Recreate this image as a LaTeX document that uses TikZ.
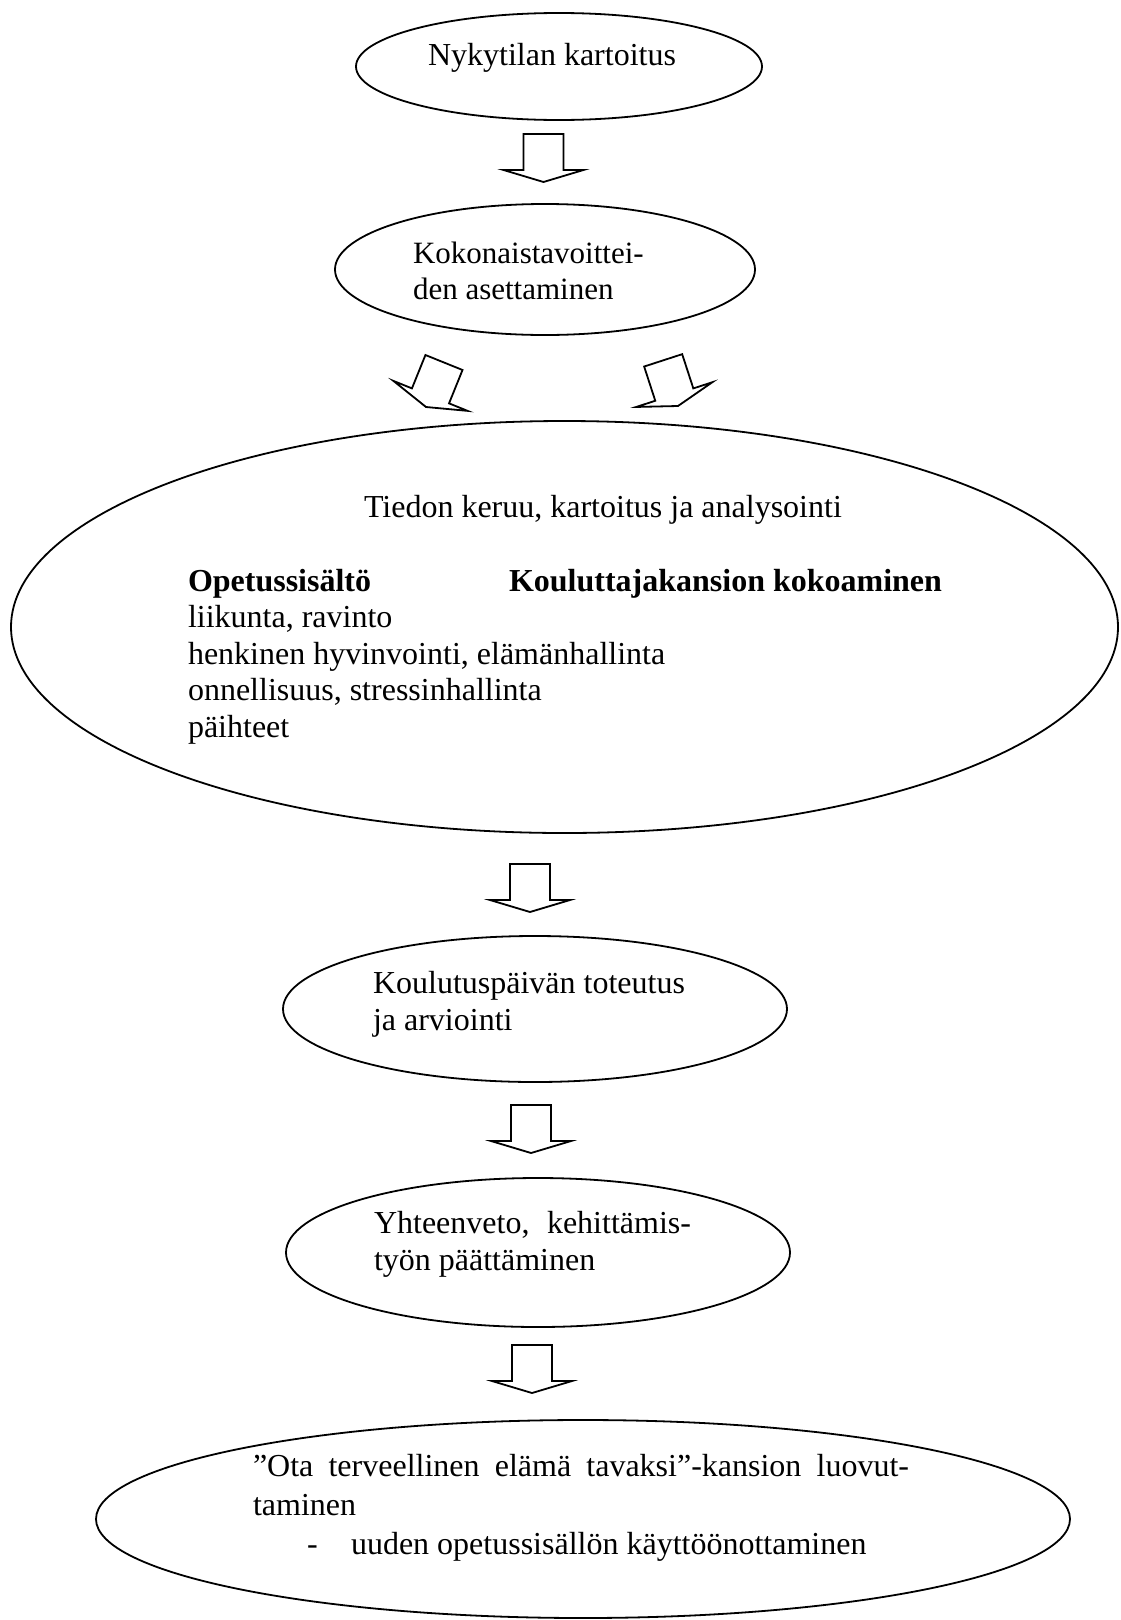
\documentclass[tikz,border=0pt]{standalone}
\usepackage{fontspec}
\setmainfont{Liberation Serif}
\usetikzlibrary{shapes.geometric}
\begin{document}
\begin{tikzpicture}[x=1pt,y=-1pt,
  bubble/.style={draw, ellipse, line width=1.8pt, inner sep=0pt, outer sep=0pt},
  txt/.style={anchor=base west, inner sep=0pt, outer sep=0pt, font=\fontsize{32}{37}\selectfont},
  blockarrow/.pic={
    \draw[line width=1.8pt, line join=miter, fill=white]
      (-20,-48) -- (20,-48) -- (20,-12) -- (40,-12) -- (0,0) -- (-40,-12) -- (-20,-12) -- cycle;
  }]
  % page
  \fill[white] (0,0) rectangle (1121,1620);
  \useasboundingbox (0,0) rectangle (1121,1620);

  % process stages
  \node[bubble, minimum width=406, minimum height=107] (e1) at (559,66.5) {};
  \node[bubble, minimum width=420, minimum height=131] (e2) at (545,269.5) {};
  \node[bubble, minimum width=1107, minimum height=412] (e3) at (564.5,627) {};
  \node[bubble, minimum width=504, minimum height=146] (e4) at (535,1009) {};
  \node[bubble, minimum width=504, minimum height=149] (e5) at (538,1252.5) {};
  \node[bubble, minimum width=974, minimum height=198] (e6) at (583,1519) {};

  % stage texts
  \node[txt] (t1) at (428,65) {Nykytilan kartoitus};

  \node[txt, font=\fontsize{31}{37}\selectfont] (t2a) at (413,263) {Kokonaistavoittei-};
  \node[txt, font=\fontsize{31}{37}\selectfont] (t2b) at (413,299) {den asettaminen};

  \node[txt] (t3) at (364,517) {Tiedon keruu, kartoitus ja analysointi};
  \node[txt] (t3a) at (188,591) {\bfseries Opetussisältö};
  \node[txt] (t3b) at (509,591) {\bfseries Kouluttajakansion kokoaminen};
  \node[txt] (t3c) at (188,627) {liikunta, ravinto};
  \node[txt] (t3d) at (188,664) {henkinen hyvinvointi, elämänhallinta};
  \node[txt] (t3e) at (188,700) {onnellisuus, stressinhallinta};
  \node[txt] (t3f) at (188,737) {päihteet};

  \node[txt] (t4a) at (373,993) {Koulutuspäivän toteutus};
  \node[txt] (t4b) at (373,1030) {ja arviointi};

  \node[txt] (t5a) at (374,1233) {\makebox[317pt][s]{Yhteenveto, kehittämis-}};
  \node[txt] (t5b) at (374,1270) {työn päättäminen};

  \node[txt] (t6a) at (253,1476) {\makebox[656pt][s]{”Ota terveellinen elämä tavaksi”-kansion luovut-}};
  \node[txt] (t6b) at (253,1515) {taminen};
  \node[txt] (t6c) at (307,1554) {-};
  \node[txt] (t6d) at (351,1554) {uuden opetussisällön käyttöönottaminen};

  % block arrows between the stages (placed at their tips)
  \coordinate (a1) at (543.5,182);
  \coordinate (a2) at (426,407);
  \coordinate (a3) at (678,406);
  \coordinate (a4) at (530,912);
  \coordinate (a5) at (531,1153);
  \coordinate (a6) at (532,1393);
  \pic at (a1) {blockarrow};
  \pic[rotate=-22] at (a2) {blockarrow};
  \pic[rotate=18] at (a3) {blockarrow};
  \pic at (a4) {blockarrow};
  \pic at (a5) {blockarrow};
  \pic at (a6) {blockarrow};
\end{tikzpicture}
\end{document}
